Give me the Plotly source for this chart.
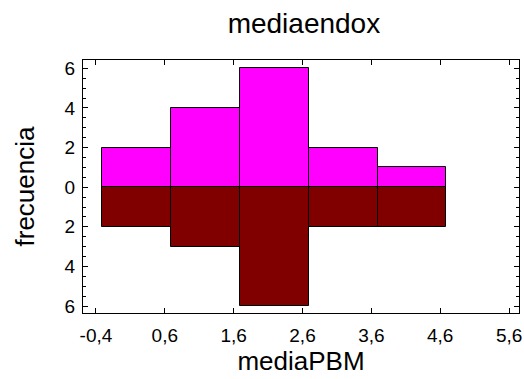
import plotly.graph_objects as go

bin_left = [-0.31, 0.69, 1.69, 2.69, 3.69]
bin_width = 1.0
upper_counts = [2, 4, 6, 2, 1]
lower_counts = [2, 3, 6, 2, 2]
x_ticks = [-0.4, 0.6, 1.6, 2.6, 3.6, 4.6, 5.6]
x_ticktext = ["-0,4", "0,6", "1,6", "2,6", "3,6", "4,6", "5,6"]
y_ticks = [-6, -4, -2, 0, 2, 4, 6]
y_ticktext = ["6", "4", "2", "0", "2", "4", "6"]

centers = [b + bin_width / 2 for b in bin_left]

fig = go.Figure()
fig.add_trace(go.Bar(x=centers, y=upper_counts, width=bin_width,
                     marker=dict(color="#FF00FF", line=dict(color="black", width=1)),
                     showlegend=False))
fig.add_trace(go.Bar(x=centers, y=[-v for v in lower_counts], width=bin_width,
                     marker=dict(color="#800000", line=dict(color="black", width=1)),
                     showlegend=False))

FONT = "Liberation Sans, Arial"
axis_common = dict(showline=True, linecolor="black", linewidth=1, mirror="ticks",
                   ticks="inside", tickcolor="black", ticklen=5, showgrid=False,
                   zeroline=False, ticklabeloverflow="allow",
                   tickfont=dict(family=FONT, size=19, color="black"))

fig.update_layout(
    width=524, height=379,
    margin=dict(l=83, r=2, t=60, b=66),
    paper_bgcolor="white", plot_bgcolor="white",
    barmode="overlay", bargap=0,
    title=dict(text="mediaendox", x=0.58, xanchor="center", y=0.94, yanchor="middle",
               font=dict(family=FONT, size=28, color="black")),
    xaxis=dict(range=[-0.588, 5.744], tickvals=x_ticks, ticktext=x_ticktext,
               ticklabelstandoff=5,
               title=dict(text="mediaPBM", font=dict(family=FONT, size=26, color="black"), standoff=6),
               **axis_common),
    yaxis=dict(range=[-6.35, 6.42], tickvals=y_ticks, ticktext=y_ticktext,
               ticklabelstandoff=3,
               minor=dict(dtick=0.5, ticks="inside", ticklen=3, tickcolor="black", showgrid=False),
               title=dict(text="frecuencia", font=dict(family=FONT, size=26, color="black"), standoff=22),
               **axis_common),
)

fig.write_html("out.html")
